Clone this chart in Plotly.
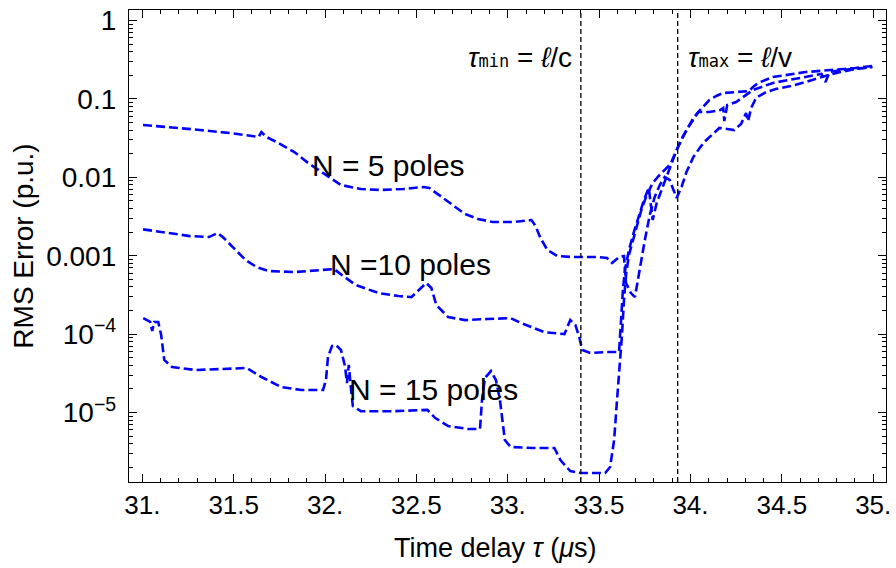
import plotly.graph_objects as go

# ---------------- data ----------------
tau_n5 = [31.004, 31.152, 31.315, 31.478, 31.636, 31.652, 31.679, 31.745, 31.832, 31.908,
          31.995, 32.087, 32.196, 32.304, 32.429, 32.538, 32.571, 32.630, 32.701, 32.766,
          32.837, 32.918, 33.027, 33.098, 33.130, 33.152, 33.179, 33.217, 33.272, 33.353,
          33.489, 33.543, 33.571, 33.609, 33.636, 33.647, 33.674, 33.696, 33.723, 33.750,
          33.777, 33.804, 33.832, 33.859, 33.886, 33.908, 33.924, 33.951, 33.978, 34.016,
          34.054, 34.087, 34.125, 34.158, 34.201, 34.239, 34.277, 34.304, 34.315, 34.332,
          34.359, 34.413, 34.467, 34.549, 34.630, 34.696, 34.755, 34.821, 34.902, 34.995]
err_n5 = [0.0465, 0.0438, 0.0402, 0.0367, 0.0327, 0.0378, 0.0327, 0.0274, 0.0210, 0.0152,
          0.0110, 0.00798, 0.00710, 0.00689, 0.00710, 0.00752, 0.00731, 0.00577, 0.00431, 0.00340,
          0.00294, 0.00269, 0.00269, 0.00277, 0.00285, 0.00239, 0.00168, 0.00118, 0.000991, 0.000962,
          0.000962, 0.000935, 0.000807, 0.000962, 0.000991, 0.000449, 0.000334, 0.000297, 0.000697, 0.00158,
          0.00330, 0.00561, 0.00798, 0.0101, 0.00925, 0.00689, 0.00544, 0.00752, 0.0117, 0.0182,
          0.0243, 0.0299, 0.0367, 0.0426, 0.0413, 0.0401, 0.0479, 0.0661, 0.0522, 0.0766,
          0.103, 0.122, 0.134, 0.146, 0.164, 0.185, 0.202, 0.220, 0.241, 0.255]

tau_n10 = [31.004, 31.136, 31.261, 31.364, 31.413, 31.446, 31.495, 31.565, 31.625, 31.690,
           31.837, 32.016, 32.049, 32.092, 32.168, 32.293, 32.402, 32.473, 32.511, 32.554,
           32.582, 32.609, 32.674, 32.766, 32.891, 33.016, 33.071, 33.201, 33.310, 33.342,
           33.370, 33.391, 33.408, 33.451, 33.543, 33.609, 33.620, 33.630, 33.641, 33.663,
           33.690, 33.717, 33.745, 33.772, 33.793, 33.815, 33.842, 33.870, 33.924, 33.978,
           34.016, 34.043, 34.103, 34.163, 34.179, 34.185, 34.201, 34.250, 34.304, 34.342,
           34.451, 34.630, 34.717, 34.739, 34.761, 34.832, 34.995]
err_n10 = [0.00217, 0.00195, 0.00178, 0.00173, 0.00195, 0.00168, 0.00129, 0.000881, 0.000718, 0.000638,
           0.000619, 0.000657, 0.000677, 0.000567, 0.000423, 0.000334, 0.000306, 0.000297, 0.000365, 0.000449,
           0.000387, 0.000235, 0.000165, 0.000151, 0.000156, 0.000160, 0.000139, 0.000106, 0.000100, 0.000151,
           0.000131, 0.0000918, 0.0000627, 0.0000574, 0.0000591, 0.0000591, 0.000151, 0.000365, 0.000657, 0.00118,
           0.00200, 0.00330, 0.00513, 0.00731, 0.00285, 0.00470, 0.00689, 0.0107, 0.0223, 0.0401,
           0.0571, 0.0681, 0.0681, 0.0722, 0.0766, 0.0522, 0.0836, 0.0913, 0.112, 0.130,
           0.160, 0.190, 0.208, 0.164, 0.220, 0.234, 0.255]

tau_n15 = [31.005, 31.043, 31.054, 31.065, 31.087, 31.103, 31.120, 31.163, 31.293, 31.473,
           31.571, 31.652, 31.761, 31.870, 31.989, 32.005, 32.016, 32.038, 32.060, 32.087,
           32.109, 32.120, 32.130, 32.141, 32.152, 32.196, 32.380, 32.560, 32.603, 32.674,
           32.783, 32.848, 32.859, 32.875, 32.908, 32.935, 32.957, 32.984, 33.016, 33.136,
           33.255, 33.288, 33.342, 33.397, 33.533, 33.560, 33.582, 33.598, 33.614, 33.625,
           33.636, 33.647, 33.663, 33.685, 33.707, 33.734, 33.761, 33.793, 33.826, 33.859,
           33.891, 33.924, 33.957, 33.989, 34.043, 34.103, 34.141, 34.179, 34.250, 34.321,
           34.342, 34.370, 34.451, 34.630, 34.902, 34.995]
err_n15 = [0.000160, 0.000143, 0.000110, 0.000143, 0.000143, 0.0000973, 0.0000468, 0.0000380, 0.0000348, 0.0000359,
           0.0000370, 0.0000284, 0.0000211, 0.0000194, 0.0000194, 0.0000260, 0.0000511, 0.0000705, 0.0000726, 0.0000627,
           0.0000392, 0.0000238, 0.0000404, 0.0000211, 0.0000121, 0.0000104, 0.0000104, 0.0000108, 0.00000851, 0.00000673,
           0.00000616, 0.00000616, 0.0000145, 0.0000275, 0.0000338, 0.0000260, 0.0000145, 0.00000446, 0.00000363, 0.00000353,
           0.00000353, 0.00000248, 0.00000179, 0.00000169, 0.00000169, 0.00000202, 0.00000446, 0.0000145, 0.0000428, 0.0000975,
           0.000272, 0.000567, 0.00102, 0.00158, 0.00247, 0.00406, 0.00594, 0.00846, 0.0104, 0.0124,
           0.0148, 0.0223, 0.0327, 0.0438, 0.0681, 0.0968, 0.109, 0.119, 0.122, 0.126,
           0.142, 0.160, 0.190, 0.220, 0.248, 0.263]

tau_min = 33.40
tau_max = 33.93

x_tickvals = [31, 31.5, 32, 32.5, 33, 33.5, 34, 34.5, 35]
x_ticktext = ["31.", "31.5", "32.", "32.5", "33.", "33.5", "34.", "34.5", "35."]
y_tickvals = [1, 0.1, 0.01, 0.001, 1e-4, 1e-5]
y_ticktext = ["1", "0.1", "0.01", "0.001", "10<sup>\u22124</sup>", "10<sup>\u22125</sup>"]

# ---------------- figure ----------------
FONT = "Liberation Sans, Arial, sans-serif"
BLUE = "rgb(0,0,255)"
line_style = dict(color=BLUE, width=2.6, dash="9px,4px")

fig = go.Figure()
for xs, ys, name in [(tau_n5, err_n5, "N=5"), (tau_n10, err_n10, "N=10"), (tau_n15, err_n15, "N=15")]:
    fig.add_trace(go.Scatter(x=xs, y=ys, mode="lines", line=line_style, name=name, showlegend=False))

for t in (tau_min, tau_max):
    fig.add_shape(type="line", xref="x", yref="paper", x0=t, x1=t, y0=0, y1=1,
                  line=dict(color="black", width=1.3, dash="5px,3px"))

# minor ticks
x_minor = [round(31 + 0.1 * i, 2) for i in range(-1, 42)]
y_minor = []
for e in range(-6, 1):
    for m in range(2, 10):
        y_minor.append(m * 10.0 ** e)

fig.update_xaxes(
    range=[30.927, 35.07], showgrid=False, zeroline=False,
    showline=True, linecolor="black", linewidth=1.3, mirror="allticks",
    ticks="inside", ticklen=8, tickwidth=1, tickcolor="black",
    tickmode="array", tickvals=x_tickvals, ticktext=x_ticktext,
    tickfont=dict(family=FONT, size=26, color="black"),
    ticklabeloverflow="allow",
    minor=dict(ticks="inside", ticklen=4, tickwidth=1, tickcolor="black",
               tickmode="array", tickvals=x_minor, showgrid=False),
)
fig.update_yaxes(
    type="log", range=[-5.886, 0.134], showgrid=False, zeroline=False,
    showline=True, linecolor="black", linewidth=1.3, mirror="allticks",
    ticks="inside", ticklen=8, tickwidth=1, tickcolor="black",
    tickmode="array", tickvals=y_tickvals, ticktext=y_ticktext,
    tickfont=dict(family=FONT, size=28, color="black"),
    ticklabelstandoff=6, ticklabeloverflow="allow",
    minor=dict(ticks="inside", ticklen=4, tickwidth=1, tickcolor="black",
               tickmode="array", tickvals=y_minor, showgrid=False),
    title=dict(text="RMS Error (p.u.)", font=dict(family=FONT, size=28, color="black"), standoff=4),
)

# x-axis title (placed as in the reference, slightly left of the plot centre)
fig.add_annotation(xref="paper", yref="paper", x=0.483, y=-0.14, yanchor="middle",
                   text="Time delay <i>\u03c4</i> (<i>\u03bc</i>s)", showarrow=False,
                   font=dict(family=FONT, size=27, color="black"))

ann_font = dict(family=FONT, size=30, color="black")
small = "<span style='font-size:17px;font-family:DejaVu Sans Mono'>"
fig.add_annotation(x=32.348, y=-1.843, text="N = 5 poles", showarrow=False, font=ann_font)
fig.add_annotation(x=32.467, y=-3.106, text="N =10 poles", showarrow=False, font=ann_font)
fig.add_annotation(x=32.592, y=-4.700, text="N = 15 poles", showarrow=False, font=ann_font)
fig.add_annotation(x=tau_min - 0.04, y=-0.478, xanchor="right",
                   text="<i>\u03c4</i>" + small + "min</span> = <i>\u2113</i>/c",
                   showarrow=False, font=dict(family=FONT, size=28, color="black"))
fig.add_annotation(x=tau_max + 0.045, y=-0.478, xanchor="left",
                   text="<i>\u03c4</i>" + small + "max</span> = <i>\u2113</i>/v",
                   showarrow=False, font=dict(family=FONT, size=28, color="black"))

fig.update_layout(
    width=896, height=568,
    margin=dict(l=129, r=5, t=10, b=86),
    plot_bgcolor="white", paper_bgcolor="white",
    font=dict(family=FONT, color="black"),
)

fig.write_html("out.html")
